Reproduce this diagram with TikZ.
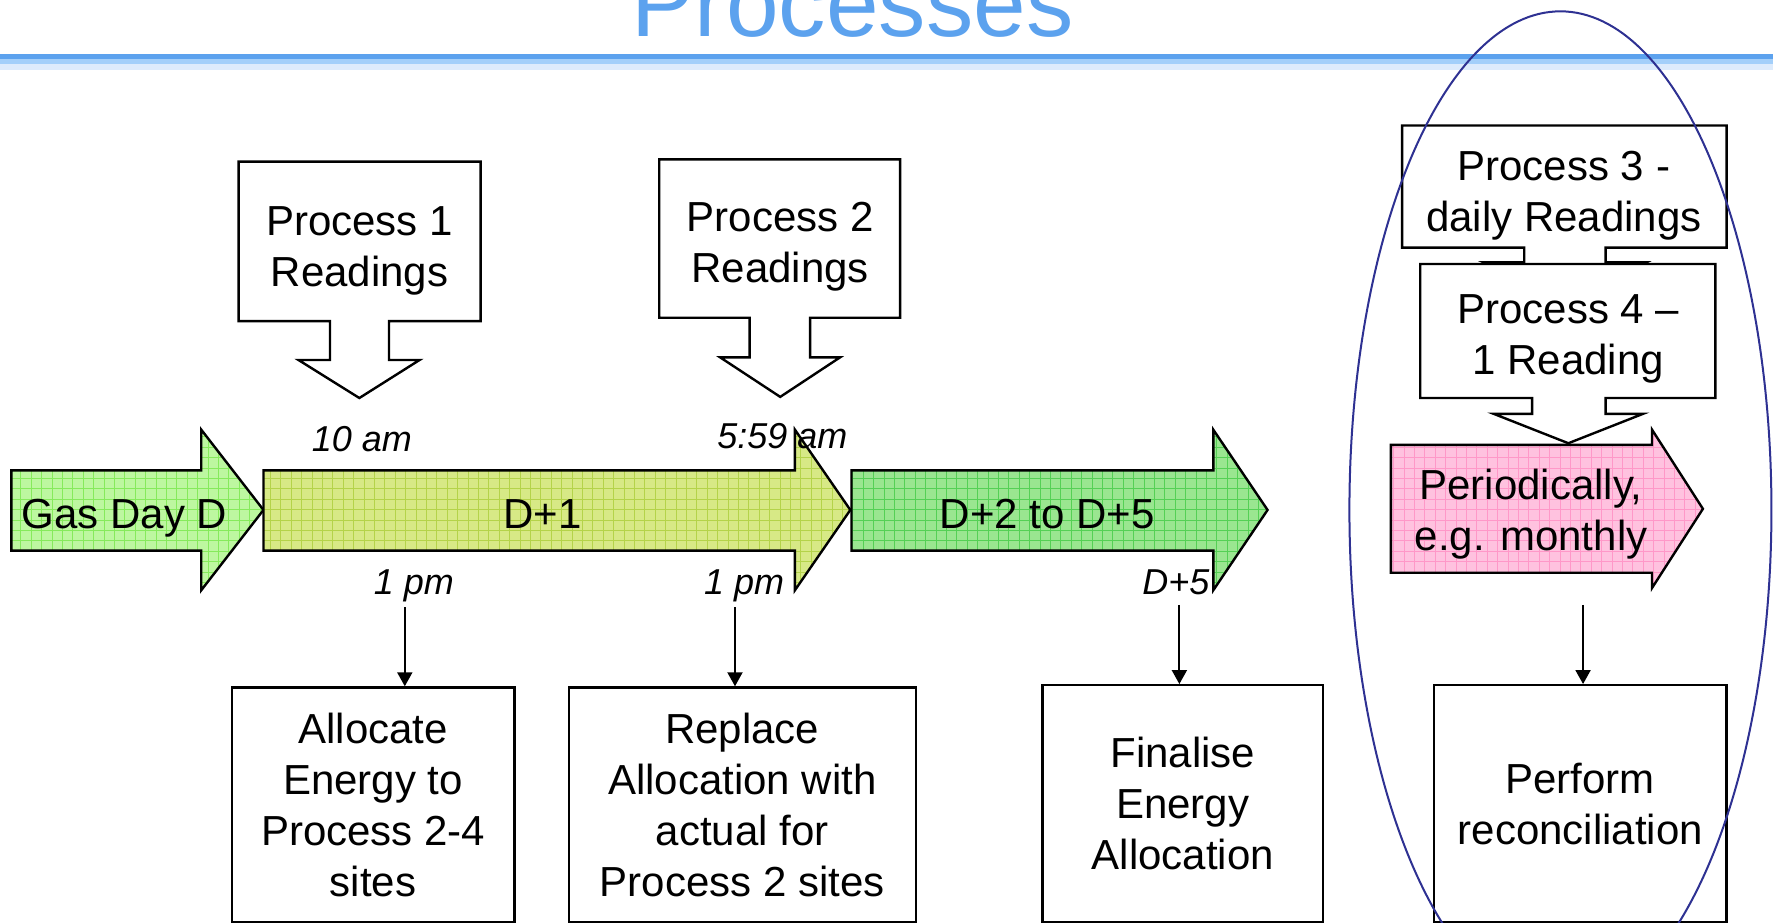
\documentclass[tikz,border=0pt]{standalone}
\usepackage{fontspec}
\setmainfont{Liberation Sans}
\usetikzlibrary{arrows.meta}
\definecolor{titleblue}{HTML}{5CA2EE}
\definecolor{rulemid}{HTML}{A3CFFA}
\definecolor{rulelight}{HTML}{DDEBFC}
\definecolor{gasfill}{HTML}{BDF7A0}
\definecolor{gasgrid}{HTML}{86EA5C}
\definecolor{donefill}{HTML}{D7E986}
\definecolor{donegrid}{HTML}{B4D34A}
\definecolor{dtwofill}{HTML}{9AE690}
\definecolor{dtwogrid}{HTML}{55D055}
\definecolor{perfill}{HTML}{FFC2DF}
\definecolor{pergrid}{HTML}{FF98C8}
\definecolor{ellblue}{HTML}{2E3192}
\newcommand\gridarrow[3]{%
  \begin{scope}
    \clip #3;
    \fill[#1] #3;
    \draw[#2, line width=0.5pt, xstep=5.2pt, ystep=5.2pt] (0,0) grid (1568,816);
  \end{scope}
  \draw[blk] #3;
}
\begin{document}
\begin{tikzpicture}[x=0.56535pt,y=-0.56535pt,
  txt/.style={font=\fontsize{21}{25.5}\selectfont, align=center, anchor=base, inner sep=0pt},
  lab/.style={font=\fontsize{18}{21}\selectfont\itshape, anchor=base, inner sep=0pt},
  callout/.style={draw=black, line width=1.2pt, fill=white, line join=miter},
  blk/.style={draw=black, line width=1.2pt, line join=miter},
  bottombox/.style={draw=black, line width=1.2pt, fill=white, align=center, inner sep=0pt,
    font=\fontsize{21}{25.5}\selectfont},
  conn/.style={line width=1pt, -{Triangle[width=7.5pt,length=7pt]}},
]
\useasboundingbox (0,0) rectangle (1568,816);
% title and rule
\node[anchor=base, font=\fontsize{47.3}{56}\selectfont, text=titleblue, inner sep=0pt] (title) at (754,32.7) {Processes};
\fill[titleblue] (0,47.8) rectangle (1568,52.2);
\fill[rulemid] (0,52.2) rectangle (1568,56.6);
\fill[rulelight] (0,56.6) rectangle (1568,61.9);
% block arrows
\gridarrow{gasfill}{gasgrid}{(10,416) -- (178,416) -- (178,380) -- (233,451) -- (178,522) -- (178,487) -- (10,487) -- cycle}
\gridarrow{donefill}{donegrid}{(233,416) -- (703,416) -- (703,380) -- (752,451) -- (703,522) -- (703,487) -- (233,487) -- cycle}
\gridarrow{dtwofill}{dtwogrid}{(753,416) -- (1073,416) -- (1073,380) -- (1121,451) -- (1073,522) -- (1073,487) -- (753,487) -- cycle}
\gridarrow{perfill}{pergrid}{(1230,393.5) -- (1461,393.5) -- (1461,380) -- (1506,450) -- (1461,520) -- (1461,506.5) -- (1230,506.5) -- cycle}
\node[txt] (gas) at (110,467) {Gas Day D};
\node[txt] (done) at (480,467) {D+1};
\node[txt] (dtwo) at (926,467) {D+2 to D+5};
\node[txt] (per) at (1354,487) {Periodically,\\e.g. monthly};
% callouts
\draw[callout] (211,143) -- (425,143) -- (425,284) -- (344,284) -- (344,318.4) -- (371,318.4) -- (317.8,352) -- (264,318.4) -- (291.8,318.4) -- (291.8,284) -- (211,284) -- cycle;
\node[txt] (p1) at (318,253) {Process 1\\Readings};
\draw[callout] (583,141) -- (796,141) -- (796,281) -- (716.4,281) -- (716.4,316) -- (743,316) -- (690,351) -- (636.8,316) -- (663,316) -- (663,281) -- (583,281) -- cycle;
\node[txt] (p2) at (690,250) {Process 2\\Readings};
\draw[callout] (1240,111) -- (1527,111) -- (1527,219) -- (1420,219) -- (1420,232) -- (1456,232) -- (1384,266) -- (1312,232) -- (1348,232) -- (1348,219) -- (1240,219) -- cycle;
\node[txt] (p3) at (1383,205) {Process 3 -\\daily Readings};
\draw[callout] (1256,233.5) -- (1517,233.5) -- (1517,352) -- (1420,352) -- (1420,366) -- (1453,366) -- (1387,392) -- (1321,366) -- (1355,366) -- (1355,352) -- (1256,352) -- cycle;
\node[txt] (p4) at (1387,331) {Process 4 –\\1 Reading};
% time labels
\node[lab] (t10) at (320,399) {10 am};
\node[lab] (t559) at (692,397) {5:59 am};
\node[lab] (tpma) at (366,526) {1 pm};
\node[lab] (tpmb) at (658,526) {1 pm};
\node[lab] (tdfive) at (1040,526) {D+5};
% bottom boxes
\node[bottombox, minimum width=141.3pt, minimum height=117.6pt] (alloc) at (330,712) {Allocate\\Energy to\\Process 2-4\\sites};
\node[bottombox, minimum width=173.6pt, minimum height=117.6pt] (repl) at (656.5,712) {Replace\\Allocation with\\actual for\\Process 2 sites};
\node[bottombox, minimum width=140.2pt, minimum height=118.7pt] (fin) at (1046,711) {Finalise\\Energy\\Allocation};
\node[bottombox, minimum width=146.4pt, minimum height=118.7pt] (perf) at (1397.5,711) {Perform\\reconciliation};
% connectors
\coordinate (ca) at (358,537);
\coordinate (cb) at (650,537);
\coordinate (cc) at (1043,535);
\coordinate (cd) at (1400,535);
\draw[conn] (ca) -- (ca |- alloc.north);
\draw[conn] (cb) -- (cb |- repl.north);
\draw[conn] (cc) -- (cc |- fin.north);
\draw[conn] (cd) -- (cd |- perf.north);
% ellipse
\draw[ellblue, line width=1pt] (1380,451) ellipse [x radius=105.5pt, y radius=249.3pt];
\end{tikzpicture}
\end{document}
